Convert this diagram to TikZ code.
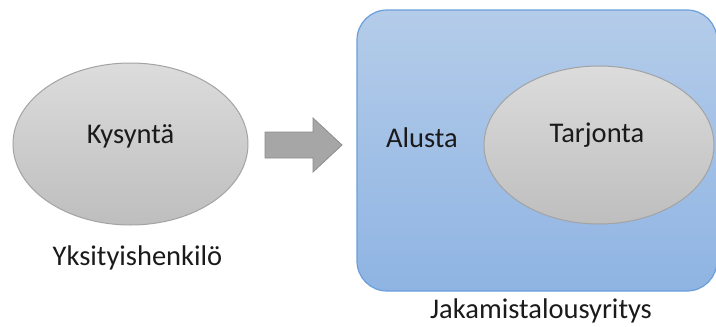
\documentclass[tikz,border=0pt]{standalone}
\usepackage{fontspec}
\setmainfont{Carlito}
\usetikzlibrary{shapes.geometric}
\definecolor{ellTop}{HTML}{DCDCDC}
\definecolor{ellBot}{HTML}{BEBEBE}
\definecolor{ellLine}{HTML}{A3A3A3}
\definecolor{boxTop}{HTML}{B4CCE9}
\definecolor{boxBot}{HTML}{8FB4E3}
\definecolor{boxLine}{HTML}{6A9FDA}
\definecolor{arrFill}{HTML}{A6A6A6}
\definecolor{arrLine}{HTML}{8C8C8C}
\definecolor{txt}{HTML}{1A1A1A}
\tikzset{
  oval/.style={ellipse, draw=ellLine, line width=1pt, top color=ellTop, bottom color=ellBot, inner sep=0pt},
  platform/.style={draw=boxLine, line width=1.2pt, rounded corners=30pt, top color=boxTop, bottom color=boxBot},
  blockarrow/.style={draw=arrLine, line width=0.8pt, fill=arrFill},
  lbl/.style={font=\fontsize{28.5}{32}\selectfont, text=txt, inner sep=0pt, anchor=base}
}
\begin{document}
\begin{tikzpicture}[x=1pt, y=-1pt]
  \useasboundingbox (0,0) rectangle (716,327);
  % platform box
  \path[platform] (357,10) rectangle (717,291);
  % demand side
  \node[oval, minimum width=235pt, minimum height=162pt] (demand) at (130.5,144) {};
  \node[lbl] (kys) at (130.5,143) {Kysyntä};
  \node[lbl] (yks) at (137.5,265) {Yksityishenkilö};
  % block arrow
  \path[blockarrow] (265,132) -- (313,132) -- (313,118) -- (342,145) -- (313,172) -- (313,158) -- (265,158) -- cycle;
  % supply inside the platform
  \node[oval, minimum width=230pt, minimum height=158pt] (supply) at (599,145) {};
  \node[lbl] (tar) at (597,142) {Tarjonta};
  \node[lbl] (alu) at (422,147) {Alusta};
  \node[lbl] (jak) at (541,318) {Jakamistalousyritys};
\end{tikzpicture}
\end{document}
